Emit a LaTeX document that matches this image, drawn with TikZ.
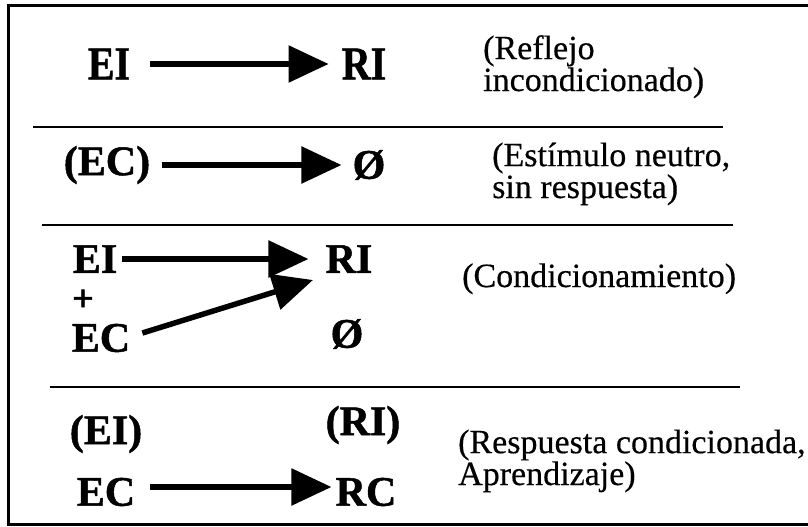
\documentclass[tikz,border=0pt]{standalone}
\usepackage{fontspec}
\setmainfont{Liberation Serif}
\newfontfamily\heavyserif[FakeBold=1.2]{Liberation Serif Bold}
\newfontfamily\inkserif[FakeBold=0.4]{Liberation Serif}
\usetikzlibrary{arrows.meta}
\newcommand\squeeze[2]{\scalebox{#1}[1]{#2}}
\begin{document}
\begin{tikzpicture}[x=1pt,y=-1pt,
  term/.style={inner sep=0pt, font=\heavyserif\fontsize{42}{42}\selectfont},
  bigterm/.style={inner sep=0pt, font=\heavyserif\fontsize{47}{47}\selectfont},
  plusterm/.style={inner sep=0pt, text height=15pt, text depth=0pt,
    font=\heavyserif\fontsize{38}{38}\selectfont},
  note/.style={inner sep=0pt, anchor=base west, align=left,
    font=\inkserif\fontsize{34}{28}\selectfont},
  rule/.style={line width=2pt},
  frame/.style={line width=3pt},
  arr/.style={line width=5.5pt, -{Triangle[length=40pt,width=36pt]}},
]
\useasboundingbox (0,0) rectangle (808,527);
\fill[white] (0,0) rectangle (808,527);

% outer frame, open on the right
\draw[frame] (808,6) -- (8,6) -- (8,524) -- (808,524);

% separators between the four cases
\draw[rule] (33,127) -- (723,127);
\draw[rule] (42,225) -- (733,225);
\draw[rule] (50,387) -- (740,387);

% unconditioned reflex
\node[bigterm] (ei1) at (109,64) {\squeeze{0.85}{EI}};
\node[bigterm] (ri1) at (364,64) {\squeeze{0.85}{RI}};
\draw[arr, shorten <=20pt, shorten >=13pt] (ei1.east) -- (ri1.west);
% multi-line notes are anchored at the baseline of their last line
\node[note] (n1) at (483,91) {(Reflejo\\incondicionado)};

% neutral stimulus
\node[term] (ec2) at (107,165) {(EC)};
\node[term] (z2) at (369,165) {Ø};
\draw[arr, shorten <=12pt, shorten >=11pt] (ec2.east) -- (z2.west);
\node[note] (n2) at (492,198) {(Estímulo neutro,\\sin respuesta)};

% conditioning
\node[term] (ei3) at (95,259) {EI};
\node[term] (ri3) at (349,259) {RI};
\node[plusterm, anchor=base] (plus3) at (83,311) {+};
\node[term] (ec3) at (101,338) {EC};
\node[term] (z3) at (347,334) {Ø};
\draw[arr, shorten <=5pt, shorten >=17pt] (ei3.east) -- (ri3.west);
\coordinate (hit) at (313,280);
\draw[arr] ([xshift=12pt,yshift=5pt]ec3.east) -- (hit);
\node[note] (n3) at (462,287) {(Condicionamiento)};

% conditioned response
\node[term] (ei4) at (106,434) {(EI)};
\node[term] (ri4) at (363,425) {(RI)};
\node[term] (ec4) at (106,492) {EC};
\node[term] (rc4) at (366,492) {RC};
\draw[arr, shorten <=15pt, shorten >=4pt] ([yshift=5pt]ec4.east) -- ([yshift=5pt]rc4.west);
\node[note] (n4) at (458,485) {(Respuesta condicionada,\\Aprendizaje)};
\end{tikzpicture}
\end{document}
